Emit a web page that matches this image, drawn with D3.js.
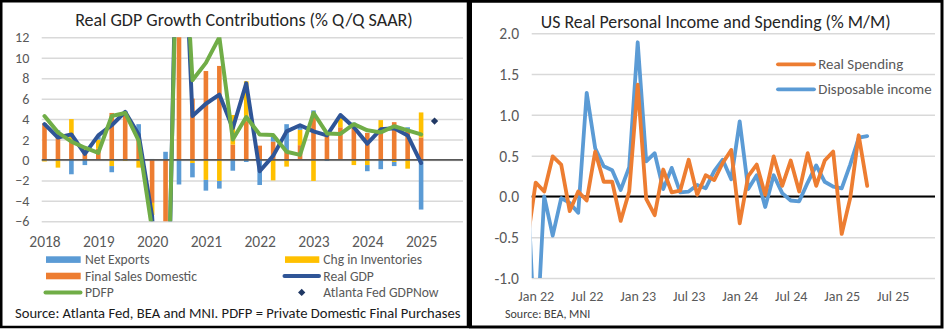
<!DOCTYPE html>
<html><head><meta charset="utf-8">
<script src="https://cdn.jsdelivr.net/npm/d3@7"></script>
<style>body{margin:0;background:#fff}svg{display:block}</style>
</head><body><svg id="c" width="944" height="329"></svg>
<script>
// ================= LEFT CHART DATA =================
const quarterAxis = ["2018Q1","2018Q2","2018Q3","2018Q4","2019Q1","2019Q2","2019Q3","2019Q4",
  "2020Q1","2020Q2","2020Q3","2020Q4","2021Q1","2021Q2","2021Q3","2021Q4",
  "2022Q1","2022Q2","2022Q3","2022Q4","2023Q1","2023Q2","2023Q3","2023Q4",
  "2024Q1","2024Q2","2024Q3","2024Q4","2025Q1","2025Q2","2025Q3","2025Q4"];
const yearLabels = ["2018","2019","2020","2021","2022","2023","2024","2025"];
const leftYTicks = [-6,-4,-2,0,2,4,6,8,10,12];
const finalSalesDomestic = [3.6,2.5,2.0,1.0,1.1,4.6,4.6,2.1,-4.2,-25,30,6.0,8.7,9.2,1.5,3.8,1.4,1.8,0.9,1.45,4.55,2.5,3.2,3.4,2.65,2.9,3.7,2.9,2.2];
const chgInventories = [-0.15,-0.75,2.0,0.1,0.9,-0.6,-0.1,-0.75,-1.2,-4.0,7.0,-0.3,-1.95,-2.05,2.9,3.9,0.0,-2.0,-0.65,1.5,-2.05,0.05,1.1,-0.5,-0.5,1.0,-0.2,-0.85,2.45];
const netExports = [0.0,0.4,-1.4,-0.5,0.4,-0.6,0.2,1.4,0.1,0.8,-2.4,-1.4,-1.05,-0.75,-1.05,-0.2,-2.45,0.45,2.6,0.35,0.3,-0.1,0.05,0.25,-0.6,-0.9,-0.4,0.3,-4.85];
const realGDP = [3.5,2.2,2.5,0.6,2.4,3.4,4.7,2.5,-5.5,-28.0,34.8,4.3,5.5,6.4,3.1,7.5,-1.1,0.4,2.8,3.4,2.8,2.4,4.4,3.2,1.6,3.0,3.1,2.4,-0.3];
const pdfp = [4.3,2.7,1.8,1.2,0.7,4.3,4.6,1.9,-6.8,-25,31,7.8,9.5,12.0,2.0,4.2,2.5,2.45,0.8,0.5,4.6,2.6,2.55,3.5,2.9,2.7,3.3,2.9,2.5];
const gdpNowQuarter = ["2025Q2"];
const gdpNowValue = [3.8];

// ================= RIGHT CHART DATA =================
const monthAxis = ["Dec 21",
  "Jan 22","Feb 22","Mar 22","Apr 22","May 22","Jun 22","Jul 22","Aug 22","Sep 22","Oct 22","Nov 22","Dec 22",
  "Jan 23","Feb 23","Mar 23","Apr 23","May 23","Jun 23","Jul 23","Aug 23","Sep 23","Oct 23","Nov 23","Dec 23",
  "Jan 24","Feb 24","Mar 24","Apr 24","May 24","Jun 24","Jul 24","Aug 24","Sep 24","Oct 24","Nov 24","Dec 24",
  "Jan 25","Feb 25","Mar 25","Apr 25","May 25","Jun 25","Jul 25"];
const rightXTicks = ["Jan 22","Jul 22","Jan 23","Jul 23","Jan 24","Jul 24","Jan 25","Jul 25"];
const rightYTicks = [-1.0,-0.5,0.0,0.5,1.0,1.5,2.0];
const realSpending = [-0.56,0.17,0.06,0.49,0.39,-0.18,0.06,-0.05,0.55,0.18,0.18,-0.30,0.06,
  1.37,-0.03,-0.23,0.33,0.05,0.07,0.45,0.02,0.26,0.20,0.41,0.57,
  -0.33,0.25,0.39,0.02,0.49,0.13,0.44,0.06,0.53,0.13,0.44,0.55,
  -0.46,-0.02,0.75,0.13];
const dispIncome = [0.23,-2.0,0.0,-0.48,-0.02,-0.08,-0.2,1.27,0.59,0.37,0.32,0.08,0.36,
  1.89,0.43,0.53,0.09,0.35,0.05,0.06,0.14,0.10,0.31,0.45,0.21,
  0.92,0.09,0.26,-0.13,0.26,0.04,-0.05,-0.06,0.17,0.38,0.18,0.12,
  0.10,0.39,0.72,0.74];

// ================= HELPERS =================
const FONT = "Calibri, Carlito, Lato, 'Open Sans', sans-serif";
const GRAY = "#595959";
const svg = d3.select("#c");
function fitEach(sel, target, maxSize) {
  sel.each(function(){
    const len = this.getComputedTextLength();
    const fs = parseFloat(this.getAttribute("font-size"));
    let nf = len > 0 ? fs*target/len : fs;
    if (maxSize) nf = Math.min(nf, maxSize);
    this.setAttribute("font-size", nf.toFixed(2));
  });
}
function fitGroup(sel, sampleNode, target, maxSize) {
  const len = sampleNode.getComputedTextLength();
  const fs = parseFloat(sampleNode.getAttribute("font-size"));
  let nf = len > 0 ? fs*target/len : fs;
  if (maxSize) nf = Math.min(nf, maxSize);
  sel.attr("font-size", nf.toFixed(2));
}
const defs = svg.append("defs");

// panel borders
svg.append("rect").attr("x",1.25).attr("y",1.25).attr("width",466.75).attr("height",325.75)
  .attr("fill","none").attr("stroke","#000").attr("stroke-width",2.5);
svg.append("rect").attr("x",470.5).attr("y",1.25).attr("width",471.5).attr("height",325.75)
  .attr("fill","none").attr("stroke","#000").attr("stroke-width",3);

// ================= LEFT CHART =================
{
  const L = {x0:41.7, x1:463, yTop:37.3, yBot:221.3};
  const x = d3.scalePoint().domain(quarterAxis).range([44.5, 44.5 + 31*13.45]);
  const y = d3.scaleLinear().domain([-6,12]).range([L.yBot, L.yTop]);
  const g = svg.append("g");

  defs.append("clipPath").attr("id","clipL").append("rect")
    .attr("x",L.x0).attr("y",L.yTop).attr("width",L.x1-L.x0).attr("height",L.yBot-L.yTop);

  const ya = g.append("g").attr("transform",`translate(${L.x0},0)`)
    .call(d3.axisLeft(y).tickValues(leftYTicks).tickSize(-(L.x1-L.x0)).tickPadding(12.4).tickFormat(d3.format("d")));
  ya.select(".domain").remove();
  ya.selectAll(".tick line").attr("stroke","#D9D9D9").attr("stroke-width",1.5);
  const yt = ya.selectAll(".tick text").attr("fill",GRAY).attr("font-family",FONT).attr("font-size",14).attr("dy",null).attr("dominant-baseline","central");
  fitGroup(yt, yt.filter(d=>d===12).node(), 14.3, 15);

  const xa = g.append("g").attr("transform",`translate(0,${L.yBot})`)
    .call(d3.axisBottom(x).tickValues(yearLabels.map(yr=>yr+"Q1")).tickSize(0).tickFormat(k=>k.slice(0,4)));
  xa.select(".domain").remove();
  const xt = xa.selectAll(".tick text").attr("fill",GRAY).attr("font-family",FONT).attr("font-size",16)
    .attr("y",241.2-L.yBot).attr("dy",null).attr("dominant-baseline","central");
  fitGroup(xt, xt.node(), 32.3, 15.5);

  const rows = finalSalesDomestic.map((v,i)=>({q:quarterAxis[i], fsd:v, inv:chgInventories[i], nx:netExports[i]}));
  const keys = ["fsd","inv","nx"];
  const colors = {fsd:"#ED7D31", inv:"#FFC000", nx:"#5B9BD5"};
  const series = d3.stack().keys(keys).offset(d3.stackOffsetDiverging)(rows);
  const bw = 4.6;
  const bars = g.append("g").attr("clip-path","url(#clipL)");
  bars.selectAll("g").data(series).join("g").attr("fill",s=>colors[s.key])
    .selectAll("rect").data(s=>s).join("rect")
    .attr("x",d=>x(d.data.q)-bw/2).attr("width",bw)
    .attr("y",d=>y(Math.max(d[0],d[1]))).attr("height",d=>Math.abs(y(d[0])-y(d[1])));

  g.append("line").attr("x1",L.x0).attr("x2",L.x1).attr("y1",y(0)).attr("y2",y(0))
    .attr("stroke","#595959").attr("stroke-width",1.8);

  const lines = g.append("g").attr("clip-path","url(#clipL)");
  const line = d3.line().x((d,i)=>x(quarterAxis[i])).y(d=>y(d));
  lines.append("path").datum(realGDP).attr("d",line).attr("fill","none")
    .attr("stroke","#2F5597").attr("stroke-width",4).attr("stroke-linejoin","round").attr("stroke-linecap","round");
  lines.append("path").datum(pdfp).attr("d",line).attr("fill","none")
    .attr("stroke","#70AD47").attr("stroke-width",4).attr("stroke-linejoin","round").attr("stroke-linecap","round");
  const diamond = d3.symbol().type(d3.symbolDiamond2).size(34);
  g.selectAll(".gn").data(gdpNowValue).join("path").attr("class","gn")
    .attr("d",diamond).attr("transform",(d,i)=>`translate(${x(gdpNowQuarter[i])},${y(d)})`).attr("fill","#203864");

  const t = g.append("text").attr("x",244).attr("y",20).attr("text-anchor","middle").attr("dominant-baseline","central")
    .attr("font-family",FONT).attr("font-size",19).attr("fill","#262626").text("Real GDP Growth Contributions (% Q/Q SAAR)");
  fitEach(t, 338);

  const lg = g.append("g");
  const r1 = 259.6, r2 = 276.0, r3 = 292.4;
  const items = [
    {type:"rect", c:"#5B9BD5", sx:46, sw:34.7, tx:85, cy:r1, label:"Net Exports"},
    {type:"rect", c:"#FFC000", sx:285, sw:34.3, tx:323.3, cy:r1, label:"Chg in Inventories"},
    {type:"rect", c:"#ED7D31", sx:46, sw:34.7, tx:85, cy:r2, label:"Final Sales Domestic"},
    {type:"line", c:"#2F5597", sx:284.5, sw:34.5, tx:323.3, cy:r2, label:"Real GDP"},
    {type:"line", c:"#70AD47", sx:45.5, sw:35, tx:85, cy:r3, label:"PDFP"},
    {type:"dia", c:"#203864", sx:301.7, sw:0, tx:323.3, cy:r3, label:"Atlanta Fed GDPNow"}
  ];
  items.forEach(it=>{
    if (it.type==="rect") lg.append("rect").attr("x",it.sx).attr("y",it.cy-3.3).attr("width",it.sw).attr("height",6.6).attr("fill",it.c);
    else if (it.type==="line") lg.append("line").attr("x1",it.sx).attr("x2",it.sx+it.sw).attr("y1",it.cy).attr("y2",it.cy)
      .attr("stroke",it.c).attr("stroke-width",4).attr("stroke-linecap","round");
    else lg.append("path").attr("d",diamond).attr("transform",`translate(${it.sx},${it.cy})`).attr("fill",it.c);
  });
  const lt = lg.selectAll("text.lt").data(items).join("text").attr("class","lt")
    .attr("x",d=>d.tx).attr("y",d=>d.cy).attr("dominant-baseline","central")
    .attr("font-family",FONT).attr("font-size",15).attr("fill",GRAY).text(d=>d.label);
  fitGroup(lt, lt.filter(d=>d.label==="Final Sales Domestic").node(), 117.7, 13.6);

  const src = g.append("text").attr("x",15).attr("y",313).attr("dominant-baseline","central")
    .attr("font-family",FONT).attr("font-size",15).attr("fill","#1a1a1a")
    .text("Source: Atlanta Fed, BEA and MNI. PDFP = Private Domestic Final Purchases");
  fitEach(src, 445.7);
}

// ================= RIGHT CHART =================
{
  const R = {x0:531.7, x1:935, yTop:33.3, yBot:278};
  const x = d3.scalePoint().domain(monthAxis).range([527.2, 527.2 + 43*8.5]);
  const y = d3.scaleLinear().domain([-1,2]).range([R.yBot, R.yTop]);
  const g = svg.append("g");
  defs.append("clipPath").attr("id","clipR").append("rect")
    .attr("x",R.x0).attr("y",R.yTop-3).attr("width",R.x1-R.x0).attr("height",R.yBot-R.yTop+3);

  const ya = g.append("g").attr("transform",`translate(${R.x0},0)`)
    .call(d3.axisLeft(y).tickValues(rightYTicks).tickSize(-(R.x1-R.x0)).tickPadding(12.7).tickFormat(d3.format(".1f")));
  ya.select(".domain").remove();
  ya.selectAll(".tick line").attr("stroke","#D9D9D9").attr("stroke-width",1.5);
  const yt = ya.selectAll(".tick text").attr("fill",GRAY).attr("font-family",FONT).attr("font-size",14)
    .attr("dy",null).attr("dominant-baseline","central").text(d=>d3.format(".1f")(d).replace("−","-"));
  fitGroup(yt, yt.filter(d=>d===2).node(), 19.7);

  const xa = g.append("g").attr("transform",`translate(0,${R.yBot})`)
    .call(d3.axisBottom(x).tickValues(rightXTicks).tickSize(0));
  xa.select(".domain").remove();
  const xt = xa.selectAll(".tick text").attr("fill",GRAY).attr("font-family",FONT).attr("font-size",14)
    .attr("y",296.3-R.yBot).attr("dy",null).attr("dominant-baseline","central");
  fitGroup(xt, xt.node(), 38, 14);

  g.append("line").attr("x1",R.x0).attr("x2",R.x1).attr("y1",y(0)).attr("y2",y(0))
    .attr("stroke","#000").attr("stroke-width",2);

  const lines = g.append("g").attr("clip-path","url(#clipR)");
  const line = d3.line().x((d,i)=>x(monthAxis[i])).y(d=>y(d));
  lines.append("path").datum(dispIncome).attr("d",line).attr("fill","none")
    .attr("stroke","#5B9BD5").attr("stroke-width",3.8).attr("stroke-linejoin","round").attr("stroke-linecap","round");
  lines.append("path").datum(realSpending).attr("d",line).attr("fill","none")
    .attr("stroke","#ED7D31").attr("stroke-width",3.8).attr("stroke-linejoin","round").attr("stroke-linecap","round");

  const t = g.append("text").attr("x",715.7).attr("y",21.7).attr("text-anchor","middle").attr("dominant-baseline","central")
    .attr("font-family",FONT).attr("font-size",19).attr("fill","#262626").text("US Real Personal Income and Spending (% M/M)");
  fitEach(t, 350);

  const leg = [{c:"#ED7D31", cy:64.3, label:"Real Spending"},{c:"#5B9BD5", cy:89.3, label:"Disposable income"}];
  leg.forEach(d=>g.append("line").attr("x1",778).attr("x2",814).attr("y1",d.cy).attr("y2",d.cy)
    .attr("stroke",d.c).attr("stroke-width",3.8).attr("stroke-linecap","round"));
  const lt = g.selectAll("text.rl").data(leg).join("text").attr("class","rl")
    .attr("x",818.3).attr("y",d=>d.cy).attr("dominant-baseline","central")
    .attr("font-family",FONT).attr("font-size",15).attr("fill",GRAY).text(d=>d.label);
  fitGroup(lt, lt.filter(d=>d.label==="Disposable income").node(), 113.3);

  const src = g.append("text").attr("x",505).attr("y",314).attr("dominant-baseline","central")
    .attr("font-family",FONT).attr("font-size",12).attr("fill","#404040").text("Source: BEA, MNI");
  fitEach(src, 93.3, 12);
}
</script></body></html>
